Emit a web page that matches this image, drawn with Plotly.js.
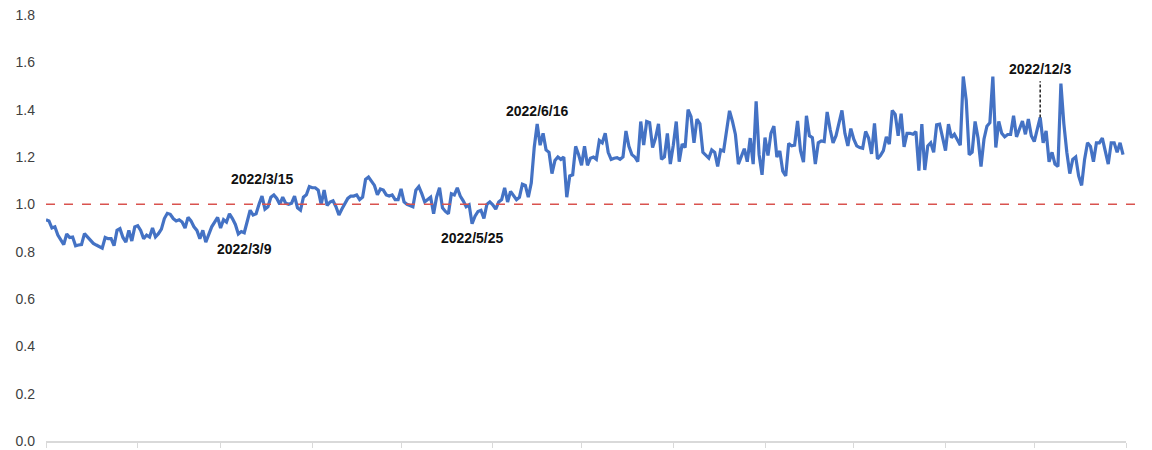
<!DOCTYPE html>
<html>
<head>
<meta charset="utf-8">
<script src="https://cdn.plot.ly/plotly-3.0.1.min.js"></script>
<style>html,body{margin:0;padding:0;background:#fff;}#chart{width:1152px;height:450px;}</style>
</head>
<body>
<div id="chart"></div>
<script>
// Daily values, 2022 (one array per month)
const jan = [0.935,0.93,0.90,0.905,0.87,0.85,0.83,0.875,0.86,0.862,0.825,0.828,0.83,0.876,0.862,0.845,0.835,0.828,0.82,0.815,0.86,0.855,0.855,0.825,0.89,0.897,0.86,0.84,0.89,0.845,0.905];
const feb = [0.91,0.89,0.855,0.87,0.862,0.90,0.862,0.876,0.895,0.94,0.962,0.958,0.94,0.93,0.935,0.925,0.90,0.945,0.93,0.905,0.89,0.855,0.89,0.84,0.87,0.905,0.925,0.945];
const mar = [0.90,0.935,0.925,0.96,0.94,0.915,0.875,0.885,0.88,0.93,0.975,0.955,0.96,1.0,1.035,0.98,0.99,1.03,1.04,1.025,1.0,1.03,1.005,1.0,1.005,1.035,0.985,0.975,1.03,1.04,1.075];
const apr = [1.07,1.07,1.06,1.0,1.06,0.995,1.01,1.015,0.99,0.955,0.98,1.0,1.025,1.035,1.035,1.04,1.02,1.03,1.105,1.115,1.095,1.08,1.04,1.065,1.06,1.04,1.035,1.04,1.02,1.02];
const may = [1.065,1.01,1.0,0.995,0.99,1.06,1.075,1.045,1.01,1.02,1.03,0.96,1.03,1.07,0.985,0.97,0.96,1.045,1.04,1.07,1.035,1.015,0.99,0.998,0.918,0.95,0.97,0.975,0.94,1.0,1.01];
const jun = [0.998,0.98,1.01,1.02,1.07,1.01,1.055,1.035,1.02,1.03,1.085,1.08,1.03,1.09,1.24,1.34,1.25,1.30,1.23,1.22,1.13,1.185,1.2,1.19,1.2,1.03,1.12,1.125,1.245,1.21];
const jul = [1.165,1.245,1.165,1.195,1.2,1.19,1.27,1.26,1.3,1.22,1.19,1.195,1.197,1.19,1.2,1.31,1.245,1.21,1.2,1.18,1.35,1.25,1.35,1.345,1.24,1.28,1.34,1.19,1.2,1.3,1.17];
const aug = [1.25,1.35,1.18,1.255,1.24,1.40,1.37,1.26,1.36,1.34,1.22,1.205,1.195,1.23,1.22,1.16,1.23,1.225,1.31,1.395,1.35,1.295,1.17,1.2,1.235,1.18,1.28,1.17,1.435,1.21,1.125];
const sep = [1.282,1.206,1.30,1.33,1.2,1.225,1.14,1.12,1.257,1.247,1.25,1.352,1.227,1.178,1.374,1.29,1.282,1.17,1.26,1.268,1.265,1.39,1.317,1.26,1.29,1.352,1.397,1.30,1.247,1.32];
const oct = [1.275,1.247,1.24,1.237,1.308,1.28,1.213,1.342,1.192,1.206,1.227,1.285,1.254,1.397,1.38,1.29,1.383,1.243,1.30,1.30,1.296,1.307,1.142,1.339,1.145,1.247,1.26,1.22,1.336,1.339,1.282];
const nov = [1.227,1.339,1.282,1.296,1.27,1.25,1.54,1.44,1.21,1.22,1.35,1.28,1.16,1.275,1.33,1.345,1.54,1.24,1.35,1.30,1.285,1.295,1.295,1.374,1.285,1.317,1.352,1.296,1.36,1.29];
const dec = [1.265,1.317,1.367,1.26,1.31,1.18,1.22,1.17,1.16,1.51,1.34,1.22,1.13,1.19,1.20,1.12,1.08,1.19,1.26,1.245,1.18,1.26,1.26,1.28,1.23,1.17,1.26,1.26,1.22,1.26,1.21];

const startDate = '2022-01-01';
const endDate = '2023-01-01';
const refLevel = 1.0;
const yTicks = [0, 0.2, 0.4, 0.6, 0.8, 1.0, 1.2, 1.4, 1.6, 1.8];
const marked = [
  {date: '2022-03-09', label: '2022/3/9', y: 0.81},
  {date: '2022-03-15', label: '2022/3/15', y: 1.108},
  {date: '2022-05-25', label: '2022/5/25', y: 0.858},
  {date: '2022-06-16', label: '2022/6/16', y: 1.396},
  {date: '2022-12-03', label: '2022/12/3', y: 1.571}
];
const leaderDate = '2022-12-03';
const leaderTop = 1.52;

const values = [].concat(jan, feb, mar, apr, may, jun, jul, aug, sep, oct, nov, dec);
const dates = [];
(function(){
  const d0 = new Date(startDate + 'T00:00:00Z');
  for (let i = 0; i < values.length; i++) {
    const d = new Date(d0.getTime() + i * 86400000);
    dates.push(d.toISOString().slice(0, 10));
  }
})();
const leaderIdx = dates.indexOf(leaderDate);

const trace = {
  x: dates, y: values, type: 'scatter', mode: 'lines',
  line: {color: '#4472C4', width: 3.2}, hoverinfo: 'x+y'
};

const layout = {
  width: 1152, height: 450,
  margin: {l: 46, r: 26, t: 15, b: 9},
  paper_bgcolor: '#fff', plot_bgcolor: '#fff',
  showlegend: false,
  font: {family: 'Liberation Sans, Arial, sans-serif', size: 14, color: '#404040'},
  xaxis: {
    type: 'date', range: [startDate, endDate],
    tickmode: 'linear', tick0: startDate, dtick: 'M1',
    ticks: 'outside', ticklen: 5, tickcolor: '#d9d9d9', tickwidth: 1,
    showticklabels: false, showgrid: false, zeroline: false,
    showline: true, linecolor: '#d9d9d9', linewidth: 1.5
  },
  yaxis: {
    range: [0, 1.8], tickmode: 'array', tickvals: yTicks,
    ticktext: yTicks.map(v => v.toFixed(1)),
    showgrid: false, zeroline: false, showline: false, ticks: '',
    ticklabelstandoff: 10, ticklabeloverflow: 'allow',
    tickfont: {size: 14, color: '#404040'}
  },
  shapes: [
    {type: 'line', xref: 'paper', x0: 0, x1: 1.013, yref: 'y', y0: refLevel, y1: refLevel,
     line: {color: '#D9534F', width: 1.5, dash: 'dash'}},
    {type: 'line', xref: 'x', x0: leaderDate, x1: leaderDate, yref: 'y', y0: values[leaderIdx], y1: leaderTop,
     line: {color: '#222', width: 1.5, dash: '3px,2px'}}
  ],
  annotations: marked.map(m => ({
    x: m.date, y: m.y, xref: 'x', yref: 'y', text: m.label, showarrow: false,
    xanchor: 'center', yanchor: 'middle',
    font: {family: 'Liberation Sans, Arial, sans-serif', size: 14, color: '#111', weight: 'bold'}
  }))
};

Plotly.newPlot('chart', [trace], layout, {displayModeBar: false, staticPlot: true});
</script>
</body>
</html>
